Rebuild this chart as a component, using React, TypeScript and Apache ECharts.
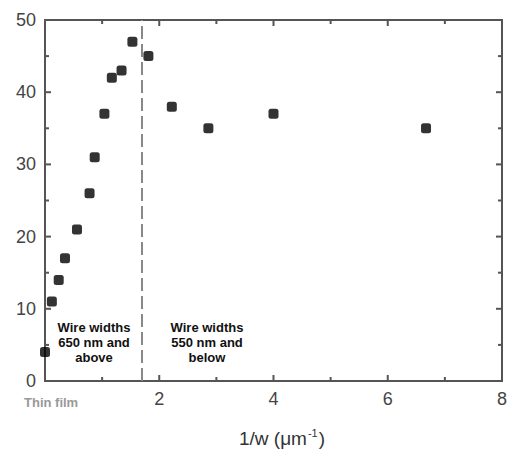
import React, { useEffect, useRef } from "react";
import * as echarts from "echarts";

const xValues = [0, 0.12, 0.24, 0.35, 0.56, 0.78, 0.87, 1.04, 1.17, 1.34, 1.53, 1.81, 2.22, 2.86, 4.0, 6.67];
const yValues = [4, 11, 14, 17, 21, 26, 31, 37, 42, 43, 47, 45, 38, 35, 37, 35];
const dividerX = 1.69;
const xTicks = [0, 2, 4, 6, 8];
const yTicks = [0, 10, 20, 30, 40, 50];
const xMinorTicks = [1, 3, 5, 7];
const yMinorTicks = [5, 15, 25, 35, 45];
const leftNote = "Wire widths\n650 nm and\nabove";
const rightNote = "Wire widths\n550 nm and\nbelow";
const thinFilmLabel = "Thin film";

const AXIS_COLOR = "#555";

function makeAxis(kind: "x" | "y") {
  const ticks = kind === "x" ? xTicks : yTicks;
  return {
    type: "value",
    min: ticks[0],
    max: ticks[ticks.length - 1],
    interval: ticks[1] - ticks[0],
    axisLine: { show: true, onZero: false, lineStyle: { color: AXIS_COLOR, width: 2 } },
    axisTick: { show: false },
    splitLine: { show: false },
    axisLabel: {
      show: true,
      fontFamily: "Liberation Sans, Arial, sans-serif",
      fontSize: 18,
      color: "#444",
      margin: 9,
      formatter: (v: number) => (kind === "x" && v === 0 ? "" : String(v)),
    },
  };
}

export default function App() {
  const ref = useRef<HTMLDivElement>(null);
  useEffect(() => {
    if (!ref.current) return;
    const chart = echarts.init(ref.current, undefined, { renderer: "svg" });
    const xMin = xTicks[0];
    const xMax = xTicks[xTicks.length - 1];
    const yMin = yTicks[0];
    const yMax = yTicks[yTicks.length - 1];
    // tick rows: [x, y, major, isXTick]
    const tickData: number[][] = [
      ...xTicks.map((v) => [v, yMin, 1, 1]),
      ...xMinorTicks.map((v) => [v, yMin, 0, 1]),
      ...yTicks.map((v) => [xMin, v, 1, 0]),
      ...yMinorTicks.map((v) => [xMin, v, 0, 0]),
    ];
    chart.setOption({
      animation: false,
      grid: { left: 45, top: 20, right: 5, bottom: 68, show: true, borderColor: AXIS_COLOR, borderWidth: 2, backgroundColor: "transparent" },
      xAxis: makeAxis("x"),
      yAxis: makeAxis("y"),
      series: [
        {
          type: "custom",
          silent: true,
          clip: false,
          z: 5,
          encode: { x: 0, y: 1 },
          data: tickData,
          renderItem: (params: any, api: any) => {
            const major = api.value(2) === 1;
            const isX = api.value(3) === 1;
            const len = major ? 6 : 4;
            const style = { stroke: AXIS_COLOR, lineWidth: 2 };
            if (isX) {
              const v = api.value(0);
              const b = api.coord([v, yMin]);
              const t = api.coord([v, yMax]);
              return {
                type: "group",
                children: [
                  { type: "line", shape: { x1: b[0], y1: b[1], x2: b[0], y2: b[1] - len }, style },
                  { type: "line", shape: { x1: t[0], y1: t[1], x2: t[0], y2: t[1] + len }, style },
                ],
              };
            }
            const v = api.value(1);
            const l = api.coord([xMin, v]);
            const r = api.coord([xMax, v]);
            return {
              type: "group",
              children: [
                { type: "line", shape: { x1: l[0], y1: l[1], x2: l[0] + len, y2: l[1] }, style },
                { type: "line", shape: { x1: r[0], y1: r[1], x2: r[0] - len, y2: r[1] }, style },
              ],
            };
          },
        },
        {
          type: "scatter",
          symbol: "roundRect",
          symbolSize: 10,
          z: 6,
          itemStyle: { color: "#000" },
          data: xValues.map((x, i) => [x, yValues[i]]),
          markLine: {
            silent: true,
            symbol: "none",
            label: { show: false },
            lineStyle: { color: "#888", width: 2, type: [13, 5] },
            data: [{ xAxis: dividerX }],
          },
        },
      ],
      graphic: [
        {
          type: "text",
          x: 94,
          y: 320,
          style: {
            text: leftNote,
            align: "center",
            verticalAlign: "top",
            font: "bold 13px 'Liberation Sans', Arial, sans-serif",
            lineHeight: 15,
            fill: "#111",
          },
        },
        {
          type: "text",
          x: 207,
          y: 320,
          style: {
            text: rightNote,
            align: "center",
            verticalAlign: "top",
            font: "bold 13px 'Liberation Sans', Arial, sans-serif",
            lineHeight: 15,
            fill: "#111",
          },
        },
        {
          type: "text",
          x: 24,
          y: 402,
          style: {
            text: thinFilmLabel,
            align: "left",
            verticalAlign: "middle",
            font: "bold 13px 'Liberation Sans', Arial, sans-serif",
            fill: "#999",
          },
        },
        {
          type: "text",
          x: 282,
          y: 438,
          style: {
            text: "{a|1/w (μm}{s|-1}{a|)}",
            align: "center",
            verticalAlign: "middle",
            rich: {
              a: { fontFamily: "Liberation Sans, Arial, sans-serif", fontSize: 19, fill: "#333", color: "#333" },
              s: { fontFamily: "Liberation Sans, Arial, sans-serif", fontSize: 11, fill: "#333", color: "#333", padding: [0, 1, 10, 1] },
            },
          },
        },
      ],
    });
    return () => chart.dispose();
  }, []);
  return <div ref={ref} style={{ position: "absolute", left: 0, top: 0, width: 510, height: 449 }} />;
}
